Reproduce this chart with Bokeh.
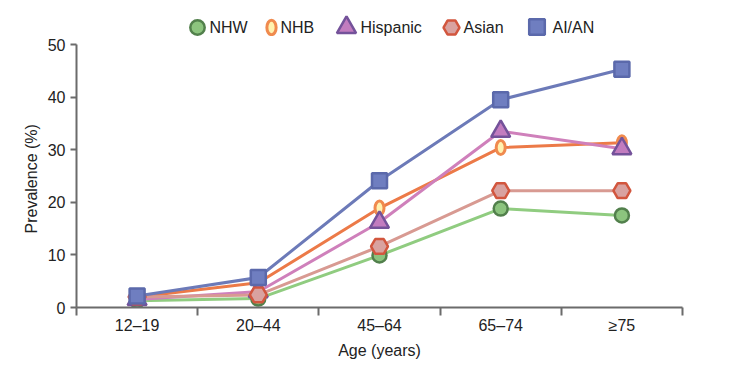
from bokeh.plotting import figure
from bokeh.models import Range1d, FixedTicker, Legend, LegendItem, ColumnDataSource, Title, Label
from bokeh.embed import file_html
from bokeh.resources import INLINE

ages = ["12–19", "20–44", "45–64", "65–74", "≥75"]
nhw = [1.3, 1.7, 9.9, 18.8, 17.5]
nhb = [2.0, 4.7, 18.9, 30.4, 31.3]
hispanic = [1.5, 3.0, 16.2, 33.5, 30.2]
asian = [2.0, 2.4, 11.6, 22.2, 22.2]
aian = [2.2, 5.7, 24.1, 39.5, 45.3]
y_ticks = [0, 10, 20, 30, 40, 50]

FONT = "Liberation Sans"
xs = list(range(1, len(ages) + 1))

# layout: plotted area 0..50 spans 263 px; frame extended upward to host the legend
H, BOTTOM = 377, 70
FRAME_H = H - BOTTOM
Y_END = 50 * FRAME_H / 263

p = figure(width=742, height=H, output_backend="svg", toolbar_location=None,
           x_range=Range1d(0.5, len(ages) + 0.5), y_range=Range1d(0, Y_END),
           min_border_left=76, min_border_right=60, min_border_top=0, min_border_bottom=BOTTOM)
p.outline_line_color = None
p.grid.visible = False
p.background_fill_color = "white"

# Axes
ax = p.xaxis[0]
ax.ticker = FixedTicker(ticks=xs, minor_ticks=[x - 0.5 for x in xs] + [xs[-1] + 0.5])
ax.major_label_overrides = {x: a for x, a in zip(xs, ages)}
ax.major_tick_out = 0
ax.major_tick_in = 0
ax.minor_tick_out = 8
ax.minor_tick_in = 0
ax.minor_tick_line_color = "#6b6b6b"
ax.minor_tick_line_width = 2
ax.axis_line_color = "#6b6b6b"
ax.axis_line_width = 2
ax.major_label_standoff = 1
ax.axis_label = "Age (years)"
ax.axis_label_standoff = 5

ay = p.yaxis[0]
ay.ticker = FixedTicker(ticks=y_ticks, minor_ticks=[])
ay.bounds = (0, 50)
ay.major_tick_out = 6
ay.major_tick_in = 0
ay.major_tick_line_color = "#6b6b6b"
ay.major_tick_line_width = 2
ay.axis_line_color = "#6b6b6b"
ay.axis_line_width = 2
ay.major_label_standoff = 5

for a in (ax, ay):
    a.major_label_text_font = FONT
    a.major_label_text_font_size = "16px"
    a.major_label_text_color = "#222222"
    a.axis_label_text_font = FONT
    a.axis_label_text_font_size = "16px"
    a.axis_label_text_font_style = "normal"
    a.axis_label_text_color = "#222222"

ytitle = Title(text="Prevalence (%)", align="left", offset=74,
               text_font=FONT, text_font_size="16px", text_font_style="normal",
               text_color="#222222")
p.add_layout(ytitle, "left")

series = [
    ("NHW", nhw, "#90cc80", "circle", "#8cc47e", "#52804c", 14),
    ("NHB", nhb, "#ec7a48", "ellipse", "#fff2b0", "#f08a4e", None),
    ("Hispanic", hispanic, "#cf80bb", "triangle", "#c27cbf", "#74529a", 19),
    ("Asian", asian, "#d89a92", "hex", "#d9a2a0", "#d2563e", 17),
    ("AI/AN", aian, "#6c7ab8", "square", "#6f7ec0", "#5b69ab", 15),
]

for name, vals, lc, *_ in series:
    p.line(xs, vals, line_color=lc, line_width=3)

# legend placement in screen px relative to frame: (glyph box, box left, box bottom, label left)
legend_pos = {
    "NHW": (36, 103, 262, 133),
    "NHB": (18, 186, 271, 204),
    "Hispanic": (48, 246, 256, 284),
    "Asian": (40, 355, 260, 387),
    "AI/AN": (39, 441, 261, 476),
}
LABEL_Y = 280

for name, vals, lc, mk, fc, oc, size in series:
    src = ColumnDataSource(dict(x=xs, y=vals))
    if mk == "ellipse":
        r = p.ellipse(x="x", y="y", width=9, height=14, width_units="screen", height_units="screen",
                      source=src, fill_color=fc, line_color=oc, line_width=3)
    else:
        r = p.scatter(x="x", y="y", marker=mk, size=size, source=src,
                      fill_color=fc, line_color=oc, line_width=2.5)
    g, lx, ly, tx = legend_pos[name]
    lg = Legend(items=[LegendItem(label="", renderers=[r])], location=(lx, ly),
                glyph_width=g, glyph_height=g, label_standoff=0, label_width=0,
                border_line_color=None, background_fill_alpha=0, padding=0, margin=0)
    p.add_layout(lg, "center")
    p.add_layout(Label(x=tx, y=LABEL_Y, x_units="screen", y_units="screen", text=name,
                       text_font=FONT, text_font_size="16px", text_color="#222222",
                       text_baseline="middle", text_align="left"))

open("out.html", "w").write(file_html(p, INLINE))
